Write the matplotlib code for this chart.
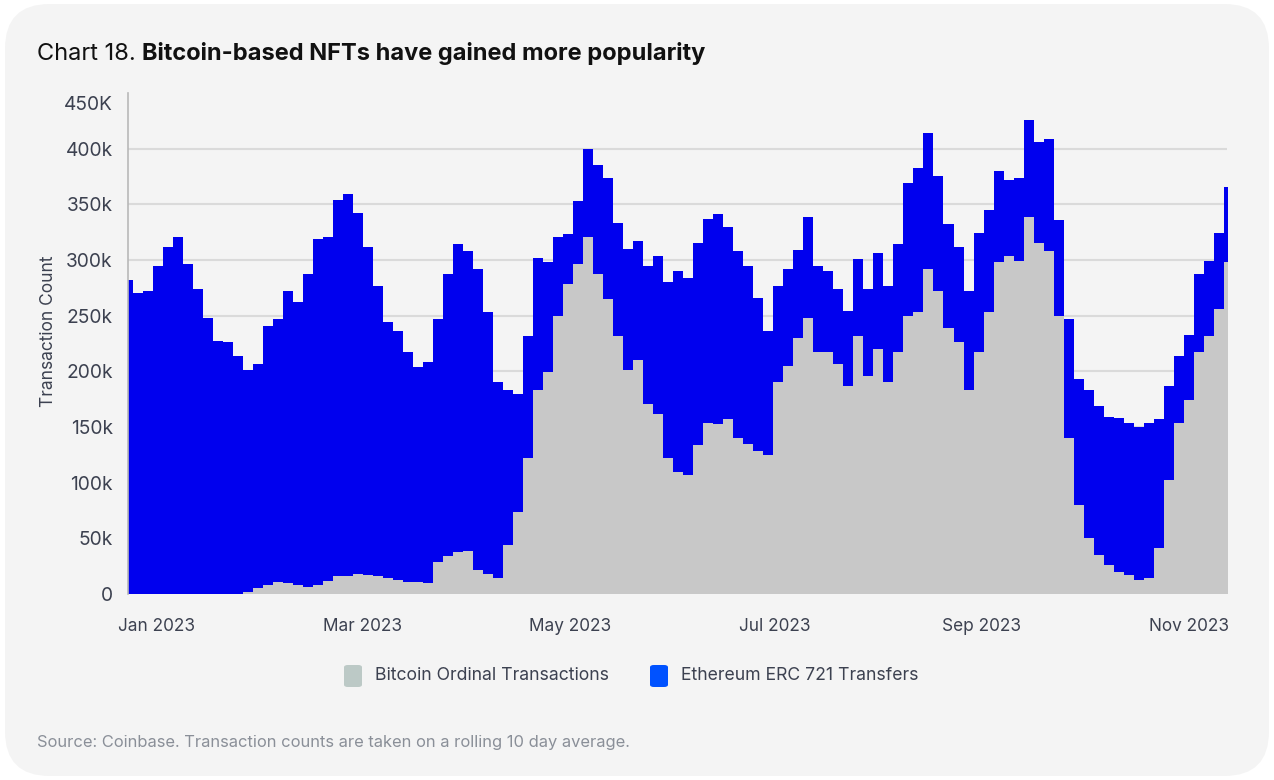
import numpy as np
import matplotlib
matplotlib.use("Agg")
import matplotlib.pyplot as plt
from matplotlib.patches import FancyBboxPatch
import matplotlib.transforms as mtransforms

# ---------------- data (values in thousands, sampled every 3 days) ----------------
total_k = [
    282, 270, 272, 295, 312, 321, 296, 274, 248, 227, 226, 214, 201, 207, 241, 247, 272, 262, 287, 319, 321, 354,
    359, 342, 312, 277, 244, 236, 217, 204, 208, 247, 287, 314, 308, 292, 253, 190, 183, 180, 232, 302, 298, 321,
    323, 353, 400, 385, 374, 333, 310, 317, 295, 304, 280, 290, 284, 315, 337, 341, 330, 308, 295, 266, 236, 277,
    292, 309, 339, 295, 290, 274, 254, 301, 274, 306, 277, 314, 369, 383, 414, 375, 332, 312, 272, 324, 345, 380,
    372, 374, 426, 406, 409, 336, 247, 193, 183, 169, 159, 158, 154, 150, 154, 157, 187, 214, 233, 287, 299, 324, 366,
]
bitcoin_k = [
    0, 0, 0, 0, 0, 0, 0, 0, 0, 0, 0, 0, 2, 5, 8, 11, 10, 8, 6, 8, 12, 16,
    16, 18, 17, 16, 14, 13, 11, 11, 10, 29, 34, 38, 39, 22, 18, 14, 44, 74, 122, 183, 199, 250,
    278, 296, 321, 287, 265, 232, 201, 210, 171, 162, 122, 110, 107, 134, 154, 153, 157, 140, 135, 128, 125, 190,
    205, 230, 248, 217, 217, 207, 187, 232, 196, 220, 190, 217, 250, 253, 292, 272, 239, 226, 183, 217, 253, 298,
    304, 299, 339, 315, 308, 250, 140, 80, 50, 35, 26, 20, 17, 13, 14, 41, 102, 154, 174, 217, 232, 256, 298,
]
month_labels = ["Jan 2023", "Mar 2023", "May 2023", "Jul 2023", "Sep 2023", "Nov 2023"]
y_tick_values = [0, 50000, 100000, 150000, 200000, 250000, 300000, 350000, 400000, 450000]
y_tick_labels = ["0", "50k", "100k", "150k", "200k", "250k", "300k", "350k", "400k", "450K"]
series_names = ["Bitcoin Ordinal Transactions", "Ethereum ERC 721 Transfers"]

total = np.array(total_k) * 1000
bitcoin = np.array(bitcoin_k) * 1000
days = np.arange(len(total)) * 3

# ---------------- style ----------------
FONT = ["Inter", "DejaVu Sans"]
plt.rcParams["font.family"] = FONT
BLUE_FILL = "#0000EE"
GRAY_FILL = "#C8C8C8"
CARD = "#F4F4F4"
TXT = "#3C4150"

W, H = 1274, 780
fig = plt.figure(figsize=(W / 100, H / 100), dpi=100)
fig.patch.set_facecolor("white")

card = FancyBboxPatch((5 / W, 4 / H), (W - 10) / W, (H - 8) / H,
                      boxstyle="round,pad=0,rounding_size=0.035",
                      transform=fig.transFigure, facecolor=CARD, edgecolor="none",
                      mutation_aspect=W / H, zorder=-5)
fig.patches.append(card)

ax = fig.add_axes([128 / W, 1 - 594 / H, 1099 / W, 501 / H])
ax.set_zorder(2)
ax.set_facecolor("none")

ax.fill_between(days, 0, total, step="mid", color=BLUE_FILL, linewidth=0, zorder=2)
ax.fill_between(days, 0, bitcoin, step="mid", color=GRAY_FILL, linewidth=0, zorder=3)

ax.set_xlim(0, 329.5)
ax.set_ylim(0, 450000)

tick_pos = [8.4, 70.4, 132.5, 194, 255.8, 318.2]
ax.set_xticks(tick_pos)
ax.set_xticklabels(month_labels, fontsize=12.4, color=TXT)
ax.tick_params(axis="x", length=0, pad=17)

ax.set_yticks(y_tick_values)
ax.set_yticklabels(y_tick_labels, fontsize=13.8, color=TXT)
ax.tick_params(axis="y", length=0, pad=11)
ax.grid(axis="y", color="#DADADA", linewidth=1.5, zorder=1)
ax.set_axisbelow(True)
ax.yaxis.get_gridlines()[-1].set_visible(False)
ax.yaxis.get_gridlines()[0].set_visible(False)
top_lbl = ax.get_yticklabels()[-1]
top_lbl.set_transform(top_lbl.get_transform() + mtransforms.ScaledTranslation(0, -10 / 100, fig.dpi_scale_trans))

for s in ["top", "right", "bottom"]:
    ax.spines[s].set_visible(False)
ax.spines["left"].set_color("#B8B8B8")
ax.spines["left"].set_linewidth(1.2)
ax.spines["left"].set_zorder(5)

ax.set_ylabel("Transaction Count", fontsize=12.5, color=TXT)
ax.yaxis.set_label_coords(-71 / 1099, 0.524)

# ---------------- title ----------------
renderer = fig.canvas.get_renderer()
t1 = fig.text(37 / W, 1 - 60 / H, "Chart 18.", fontsize=17, color="#111111",
              fontweight="normal", va="baseline", ha="left")
bb = t1.get_window_extent(renderer)
fig.text(bb.x1 / W + 6 / W, 1 - 60 / H, "Bitcoin-based NFTs have gained more popularity",
         fontsize=17, color="#111111", fontweight="bold", va="baseline", ha="left")

# ---------------- legend ----------------
leg_colors = ["#BCC9C6", "#0052FF"]
leg_x = [344, 650]
for name, col, lx in zip(series_names, leg_colors, leg_x):
    fig.patches.append(FancyBboxPatch((lx / W, 1 - 687 / H), 18 / W, 22 / H,
                                      boxstyle="round,pad=0,rounding_size=0.003",
                                      transform=fig.transFigure, facecolor=col,
                                      edgecolor="none", zorder=3))
    fig.text((lx + 31) / W, 1 - 676 / H, name, fontsize=12.7, color=TXT,
             va="center", ha="left")

# ---------------- source ----------------
fig.text(37 / W, 1 - 742 / H,
         "Source: Coinbase. Transaction counts are taken on a rolling 10 day average.",
         fontsize=11.9, color="#8A8F98", va="center", ha="left")

fig.savefig("out.png", dpi=100, facecolor=fig.get_facecolor())
